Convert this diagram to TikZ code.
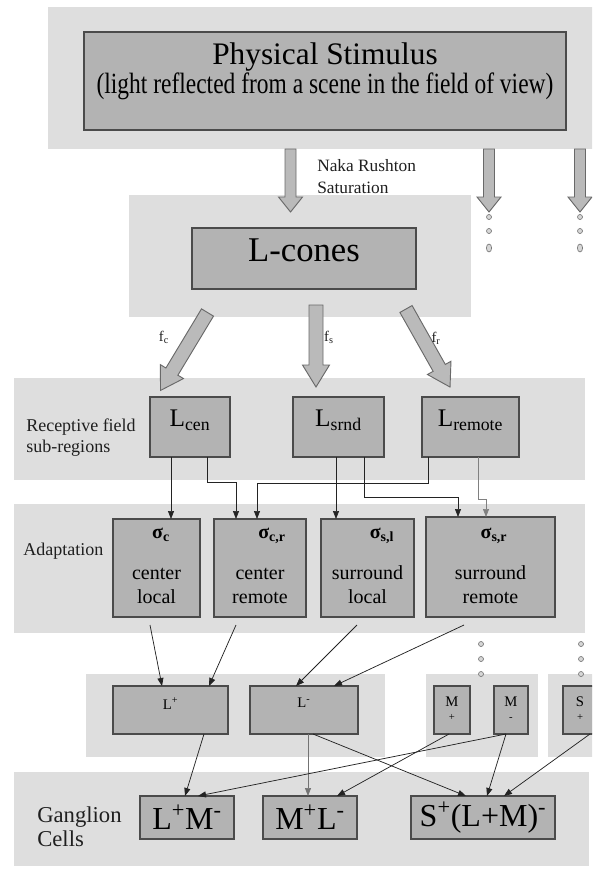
\documentclass[tikz,border=0pt]{standalone}
\usepackage{fontspec}
\setmainfont{Liberation Serif}
\usepackage{graphicx}
\usetikzlibrary{arrows.meta,calc}
\newdimen\pxu \pxu=0.75pt
\newcommand\myfs[2]{\fontsize{#1}{#2}\selectfont}
\newcommand\bxt[4]{\parbox[c][#2\pxu][t]{#1\pxu}{\centering\vspace*{#3\pxu}#4\par}}
\newcommand\bxc[3]{\parbox[c][#2\pxu][c]{#1\pxu}{\centering #3\par}}
\newcommand\fatarrow[6]{%
  \begin{scope}[shift={(#1)},rotate=#2]
    \draw[fat] (0,-#4) -- ({#3-#6},-#4) -- ({#3-#6},-#5) -- (#3,0) -- ({#3-#6},#5) -- ({#3-#6},#4) -- (0,#4) -- cycle;
  \end{scope}}
\definecolor{panelgray}{RGB}{222,222,222}
\definecolor{boxgray}{RGB}{179,179,179}
\definecolor{boxedge}{RGB}{75,75,75}
\definecolor{fatgray}{RGB}{186,186,186}
\definecolor{fatedge}{RGB}{105,105,105}
\definecolor{linecol}{RGB}{35,35,35}
\definecolor{dotedge}{RGB}{120,120,120}
\definecolor{dotfill}{RGB}{215,215,215}
\tikzset{
  panel/.style={fill=panelgray, draw=none},
  box/.style={draw=boxedge, fill=boxgray, line width=0.8pt, inner sep=0pt, outer sep=0pt},
  conn/.style={draw=linecol, line width=0.55pt, -{Triangle[length=6pt,width=4.5pt]}},
  fat/.style={draw=fatedge, fill=fatgray, line width=0.7pt, line join=miter},
  dot/.style={draw=dotedge, fill=dotfill, line width=0.5pt},
  lab/.style={inner sep=0pt, align=left, text=black!88}
}
\begin{document}
\begin{tikzpicture}[x=0.75pt, y=-0.75pt]
\useasboundingbox (0,0) rectangle (592,870);
\clip (0,0) rectangle (592,870);
\fill[white] (0,0) rectangle (592,870);

% panels
\fill[panel] (48,7) rectangle (600,149);
\fill[panel] (129,195) rectangle (471,317);
\fill[panel] (14,378) rectangle (585,480);
\fill[panel] (14,504) rectangle (585,633);
\fill[panel] (86,674) rectangle (385,757);
\fill[panel] (426,674) rectangle (538,757);
\fill[panel] (548,674) rectangle (600,757);
\fill[panel] (14,772) rectangle (589,866);

% fat arrows
\coordinate (t1) at (290.5,149);
\coordinate (t2) at (489,149);
\coordinate (t3) at (580,149);
\coordinate (f1) at (207.5,312.5);
\coordinate (f2) at (316,305);
\coordinate (f3) at (406,309);
\fatarrow{t1}{-90}{63}{5.5}{12}{15}
\fatarrow{t2}{-90}{63}{5.5}{12}{15}
\fatarrow{t3}{-90}{63}{5.5}{12}{15}
\fatarrow{f1}{-121.07}{91}{7}{13.5}{22}
\fatarrow{f2}{-90}{82}{7}{13.5}{22}
\fatarrow{f3}{-60.57}{89.6}{7}{13.5}{22}

% dots
\foreach \x in {489,580} {
  \draw[dot] (\x,217) circle (2.5);
  \draw[dot] (\x,231) circle (2.5);
  \draw[dot] (\x,248) ellipse (2.6 and 4);
}
\foreach \x in {481,581} {
  \draw[dot] (\x,644) circle (2.5);
  \draw[dot] (\x,659) circle (2.5);
  \draw[dot] (\x,674) circle (2.5);
}

% boxes
\node[box] (stim) at (325,81) {\bxt{482}{98}{10.4}{\myfs{23.5}{28}Physical Stimulus\par\myfs{22}{21.75}\scalebox{0.8}[1]{(light reflected from a scene in the field of view)}}};
\node[box] (lcones) at (304,258.5) {\bxt{224}{61}{11}{\myfs{26}{30}L-cones}};

\node[box] (lcen) at (190,427) {\bxt{80}{60}{13}{\myfs{19}{22}L\textsubscript{cen}}};
\node[box] (lsrnd) at (338.5,427) {\bxt{91}{60}{13}{\myfs{19}{22}L\textsubscript{srnd}}};
\node[box] (lrem) at (470.5,427) {\bxt{97}{60}{13}{\myfs{19}{22}L\textsubscript{remote}}};

\node[box] (sc) at (156.5,568) {\bxt{87}{98}{9}{\myfs{15}{18}\hspace*{9\pxu}\textbf{σ\textsubscript{c}}\par\vspace{17\pxu}center\\local}};
\node[box] (scr) at (260,568) {\bxt{92}{98}{9}{\myfs{15}{18}\hspace*{24\pxu}\textbf{σ\textsubscript{c,r}}\par\vspace{17\pxu}center\\remote}};
\node[box] (ssl) at (367.5,568) {\bxt{93}{98}{9}{\myfs{15}{18}\hspace*{29\pxu}\textbf{σ\textsubscript{s,l}}\par\vspace{17\pxu}surround\\local}};
\node[box] (ssr) at (490.5,567) {\bxt{129}{100}{11}{\myfs{15}{18}\hspace*{7\pxu}\textbf{σ\textsubscript{s,r}}\par\vspace{17\pxu}surround\\remote}};

\node[box] (lp) at (170.5,710) {\bxt{115}{48}{12}{\myfs{11}{13}L\textsuperscript{+}}};
\node[box] (lm) at (304,710) {\bxt{108}{48}{12}{\myfs{11}{13}L\textsuperscript{-}}};
\node[box] (mp) at (452,710) {\bxt{36}{48}{11}{\myfs{11}{10.5}M\par\myfs{8}{10.5}+}};
\node[box] (mm) at (511,710) {\bxt{34}{48}{11}{\myfs{11}{10.5}M\par\myfs{8}{10.5}-}};
\node[box] (sp) at (580,710) {\bxt{34}{48}{11}{\myfs{11}{10.5}S\par\myfs{8}{10.5}+}};

\node[box] (g1) at (187,817.5) {\bxc{94}{43}{\myfs{24}{28}L\textsuperscript{+}M\textsuperscript{-}}};
\node[box] (g2) at (310,817.5) {\bxc{94}{43}{\myfs{24}{28}M\textsuperscript{+}L\textsuperscript{-}}};
\node[box] (g3) at (483,817.5) {\bxc{144}{43}{\myfs{24}{28}S\textsuperscript{+}(L+M)\textsuperscript{-}}};

% labels
\node[lab, anchor=north west, font=\myfs{13}{16.5}] (naka) at (317,159) {Naka Rushton\\Saturation};
\node[lab, anchor=north west, font=\myfs{13.5}{15.75}] (rf) at (26,418.7) {Receptive field\\sub-regions};
\node[lab, anchor=north west, font=\myfs{13.5}{15.75}] (adapt) at (23,543) {Adaptation};
\node[lab, anchor=north west, font=\myfs{17}{18}] (gang) at (37,806.5) {Ganglion\\Cells};
\node[lab, font=\myfs{11}{12}] (fc) at (164,337) {f\textsubscript{c}};
\node[lab, font=\myfs{11}{12}] (fs) at (329,337) {f\textsubscript{s}};
\node[lab, font=\myfs{11}{12}] (fr) at (436,338) {f\textsubscript{r}};

% connectors: receptive field -> adaptation
\draw[conn] ($(lcen.south west)+(21,0)$) -- ($(sc.north west)+(58,0)$);
\draw[conn] ($(lcen.south west)+(57,0)$) -- ++(0,25) -| ($(scr.north west)+(22,0)$);
\draw[conn] ($(lrem.south west)+(6,0)$) -- ++(0,26) -| ($(scr.north west)+(43,0)$);
\draw[conn] ($(lsrnd.south west)+(43,0)$) -- ($(ssl.north west)+(15,0)$);
\draw[conn] ($(lsrnd.south west)+(71,0)$) -- ++(0,40) -| ($(ssr.north west)+(32,0)$);
\draw[conn, draw=gray] ($(lrem.south west)+(56,0)$) -- ++(0,42) -| ($(ssr.north west)+(60,0)$);

% adaptation -> L+/L-
\draw[conn] ($(sc.south west)+(37,8)$) -- ($(lp.north west)+(49,0)$);
\draw[conn] ($(scr.south west)+(22,8)$) -- ($(lp.north west)+(96,0)$);
\draw[conn] ($(ssl.south west)+(36,8)$) -- ($(lm.north west)+(46,0)$);
\draw[conn] ($(ssr.south west)+(38,8)$) -- ($(lm.north west)+(84,0)$);

% -> ganglion cells
\draw[conn] ($(lp.south west)+(91,0)$) -- ($(g1.north west)+(45,0)$);
\draw[conn, draw=gray!90!black] ($(lm.south west)+(58,0)$) -- ($(g2.north west)+(45,0)$);
\draw[conn] ($(lm.south west)+(63,0)$) -- ($(g3.north west)+(55,0)$);
\draw[conn] ($(mm.south west)+(12,0)$) -- ($(g1.north west)+(58,0)$);
\draw[conn] ($(mp.south west)+(15,0)$) -- ($(g2.north west)+(74,0)$);
\draw[conn] ($(mm.south west)+(12,0)$) -- ($(g3.north west)+(76,0)$);
\draw[conn] ($(sp.south west)+(27,0)$) -- ($(g3.north west)+(93,0)$);
\end{tikzpicture}
\end{document}
